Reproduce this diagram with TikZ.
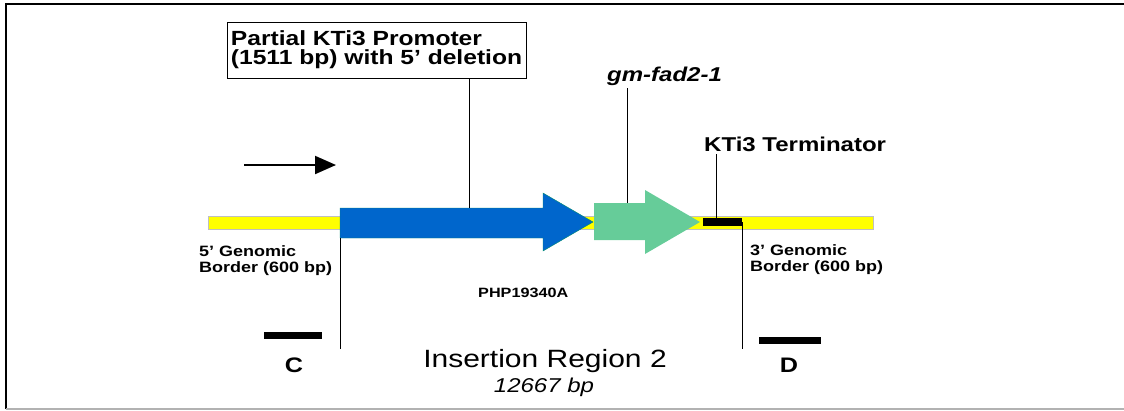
\documentclass[tikz,border=0pt]{standalone}
\usepackage{fontspec}
\setsansfont[FakeStretch=1.2]{Liberation Sans}
\usetikzlibrary{positioning,arrows.meta}
\definecolor{bordyellow}{RGB}{255,255,0}
\definecolor{promblue}{RGB}{0,102,204}
\definecolor{fadgreen}{RGB}{102,204,153}
\definecolor{edgeteal}{RGB}{0,140,110}
\begin{document}
\begin{tikzpicture}[x=1pt,y=-1pt,font=\sffamily\bfseries,
  lbl/.style={inner sep=0pt},
  probe/.style={line width=7pt}]
	\useasboundingbox (0,0) rectangle (1124,410);
	%frame
	\draw[line width=2pt] (6,409) -- (6,4) -- (1124,4);
	\draw[line width=2pt,black!30] (6,409) -- (1124,409);

	%genomic flanks
	\draw[fill=bordyellow,draw=black!25] (208,216) rectangle (873,229); %yellow bar

	%elements
	\draw[fill=promblue,draw=edgeteal] (340,208) -- (543,208) -- (543,193) -- (593,222)
	  -- (543,251) -- (543,238) -- (340,238) -- cycle; %KTi3 promoter
	\fill[fadgreen] (594,203) -- (645,203) -- (645,190) -- (700,222)
	  -- (645,254) -- (645,240) -- (594,240) -- cycle; %gm-fad2-1
	\fill (703,218) rectangle (742,226); %KTi3 terminator

	%orientation arrow
	\draw[line width=2pt,-{Triangle[length=21pt,width=18pt]}] (244,165) -- (336,165);

	%labels
	\node[draw,thick,minimum width=299,minimum height=56,align=left,inner xsep=1pt,
	  font=\sffamily\bfseries\fontsize{20.5}{19}\selectfont] (prombox) at (376.5,50)
	  {Partial KTi3 Promoter\\(1511 bp) with 5’ deletion}; %promoter label
	\node[lbl,anchor=base west,font=\sffamily\bfseries\itshape\fontsize{20}{22}\selectfont]
	  (fadlab) at (607,81) {gm-fad2-1}; %gene label
	\node[lbl,anchor=base west,font=\sffamily\bfseries\fontsize{20}{22}\selectfont]
	  (termlab) at (704,151) {KTi3 Terminator}; %terminator label
	\node[lbl,anchor=north west,align=left,font=\sffamily\bfseries\fontsize{15}{16.5}\selectfont]
	  (lborder) at (199,245) {5’ Genomic\\Border (600 bp)}; %5' flank label
	\node[lbl,anchor=north west,align=left,font=\sffamily\bfseries\fontsize{15}{16.5}\selectfont]
	  (rborder) at (750,244) {3’ Genomic\\Border (600 bp)}; %3' flank label
	\node[lbl,anchor=base west,font=\sffamily\bfseries\fontsize{13.5}{15}\selectfont]
	  (plasmid) at (478,297) {PHP19340A}; %plasmid label

	%pointer lines
	\coordinate (promtop) at (469,208);
	\coordinate (fadtop) at (627,203);
	\coordinate (termtop) at (716,218);
	\draw (prombox.south -| promtop) -- (promtop);
	\draw (fadlab.south -| fadtop) ++(0,3) -- (fadtop);
	\draw (termlab.south -| termtop) ++(0,3) -- (termtop);

	%insert borders
	\coordinate (lins) at (340,238);
	\coordinate (rins) at (742,222);
	\draw (lins) -- (340,349);
	\draw (rins) -- (742,349);

	%probes
	\draw[probe] (264,335.5) -- (322,335.5); %C probe
	\draw[probe] (759,340.5) -- (821,340.5); %D probe
	\node[lbl,anchor=base,font=\sffamily\bfseries\fontsize{21}{23}\selectfont] (clab) at (294,372) {C};
	\node[lbl,anchor=base,font=\sffamily\bfseries\fontsize{21}{23}\selectfont] (dlab) at (789,372) {D};

	%region title
	\node[lbl,anchor=base,font=\sffamily\fontsize{25}{27}\selectfont] (regtitle) at (545,367) {Insertion Region 2};
	\node[lbl,anchor=base,font=\sffamily\itshape\fontsize{20}{22}\selectfont] (reglen) at (544,392) {12667 bp};
\end{tikzpicture}
\end{document}
